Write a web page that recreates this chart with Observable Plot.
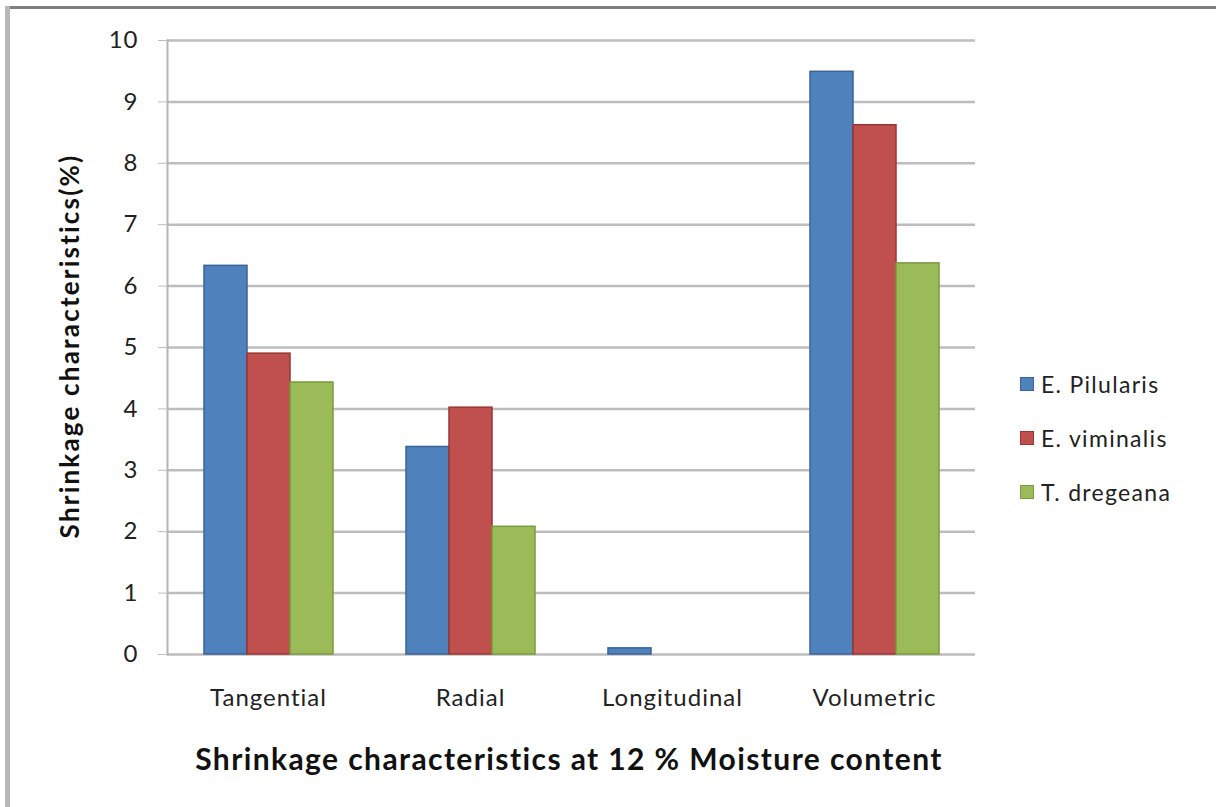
<!DOCTYPE html>
<html>
<head>
<meta charset="utf-8">
<script src="https://cdn.jsdelivr.net/npm/d3@7"></script>
<script src="https://cdn.jsdelivr.net/npm/@observablehq/plot@0.6"></script>
<style>
  html, body { margin: 0; padding: 0; background: #fff; }
  #wrap { position: relative; width: 1216px; height: 807px; overflow: hidden; font-family: Lato, "Open Sans", sans-serif; }
  #btop { position: absolute; left: 5px; top: 6px; width: 1300px; height: 3px; background: #808080; }
  #bleft { position: absolute; left: 5px; top: 6px; width: 5px; height: 900px; background: #b8b8b8; }
  #chart { position: absolute; left: 0; top: 0; }
  .ytitle { position: absolute; left: 69px; top: 346px; transform: translate(-50%, -50%) rotate(-90deg); font-weight: bold; font-size: 26px; letter-spacing: 2.2px; white-space: nowrap; color: #111; }
  .xtitle { position: absolute; left: 569px; top: 758px; transform: translate(-50%, -50%); font-weight: bold; font-size: 30px; letter-spacing: 1.4px; white-space: nowrap; color: #111; }
  .legend { position: absolute; left: 1020px; top: 370px; font-size: 23px; letter-spacing: 1.3px; color: #222; }
  .legend div { display: flex; align-items: center; height: 28px; margin-bottom: 26px; white-space: nowrap; }
  .legend span.sw { width: 14px; height: 14px; margin-right: 7px; display: inline-block; box-sizing: border-box; }
  #chart svg text { letter-spacing: 1px; }
</style>
</head>
<body>
<div id="wrap">
  <div id="btop"></div>
  <div id="bleft"></div>
  <div id="chart"></div>
  <div class="ytitle">Shrinkage characteristics(%)</div>
  <div class="xtitle">Shrinkage characteristics at 12 % Moisture content</div>
  <div class="legend" id="legend"></div>
</div>
<script>
const categories = ["Tangential", "Radial", "Longitudinal", "Volumetric"];
const series = ["E. Pilularis", "E. viminalis", "T. dregeana"];
const pilularis = [6.33, 3.38, 0.1, 9.49];
const viminalis = [4.9, 4.02, 0, 8.62];
const dregeana = [4.43, 2.08, 0, 6.37];
const yTicks = [0, 1, 2, 3, 4, 5, 6, 7, 8, 9, 10];
const fills = ["#4F81BD", "#C0504D", "#9BBB59"];
const strokes = ["#3A649A", "#9B3532", "#7A9A3E"];

const seriesValues = [pilularis, viminalis, dregeana];
const data = [];
categories.forEach((c, i) => {
  series.forEach((s, j) => {
    data.push({category: c, series: s, value: seriesValues[j][i]});
  });
});

const chart = Plot.plot({
  width: 1216,
  height: 807,
  marginLeft: 167,
  marginRight: 241,
  marginTop: 40,
  marginBottom: 153,
  style: {fontFamily: "Lato, 'Open Sans', sans-serif", fontSize: "18px", color: "#222", background: "transparent"},
  fx: {domain: categories, padding: 0, label: null},
  x: {domain: series, axis: null, paddingInner: 0, paddingOuter: 0.8},
  y: {domain: [0, 10]},
  color: {domain: series, range: fills},
  marks: [
    Plot.ruleY(yTicks, {y: d => d, stroke: "#bdbdbd", strokeWidth: 2.5}),
    Plot.frame({anchor: "left", stroke: "#b5b5b5", strokeWidth: 2, facetAnchor: "left"}),
    Plot.barY(data, {
      fx: "category", x: "series", y: "value",
      fill: "series",
      stroke: d => strokes[series.indexOf(d.series)],
      strokeWidth: 1.5
    }),
    Plot.axisY({ticks: yTicks, tickSize: 9, tickPadding: 20, stroke: "#bdbdbd", label: null, fontSize: 24, tickFormat: d => d}),
    Plot.axisFx({anchor: "bottom", tickSize: 0, tickPadding: 34, label: null, fontSize: 24})
  ]
});
document.getElementById("chart").appendChild(chart);

const legend = document.getElementById("legend");
series.forEach((s, i) => {
  const row = document.createElement("div");
  const sw = document.createElement("span");
  sw.className = "sw";
  sw.style.background = fills[i];
  sw.style.border = "1px solid " + strokes[i];
  row.appendChild(sw);
  row.appendChild(document.createTextNode(s));
  legend.appendChild(row);
});
</script>
</body>
</html>
